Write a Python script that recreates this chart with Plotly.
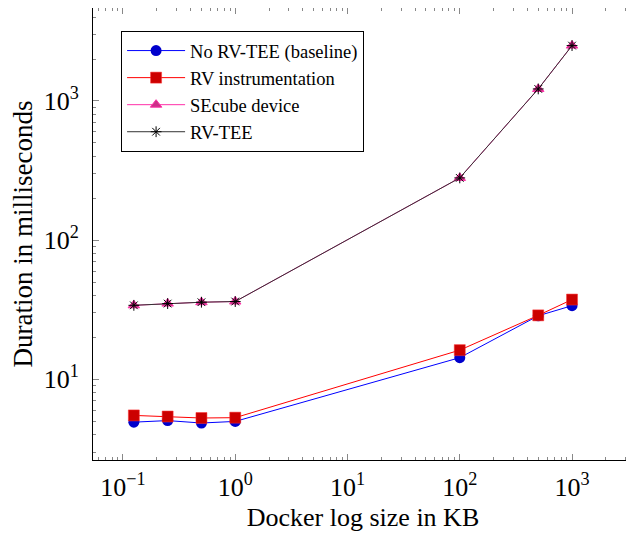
import plotly.graph_objects as go

sizes_kb = [0.125, 0.25, 0.5, 1, 100, 500, 1000]
baseline = [4.92, 5.05, 4.85, 4.98, 14.3, 28.6, 33.8]
rv_instr = [5.5, 5.4, 5.27, 5.3, 16.2, 28.8, 37.4]
secube = [34.0, 35.0, 35.8, 36.2, 280, 1220, 2500]
rv_tee = [34.0, 35.0, 35.8, 36.2, 280, 1220, 2500]

x_major = [0.1, 1, 10, 100, 1000]
x_major_text = ["10<sup>−1</sup>", "10<sup>0</sup>", "10<sup>1</sup>", "10<sup>2</sup>", "10<sup>3</sup>"]
y_major = [10, 100, 1000]
y_major_text = ["10<sup>1</sup>", "10<sup>2</sup>", "10<sup>3</sup>"]

FONT = "Liberation Serif"

fig = go.Figure()
fig.add_trace(go.Scatter(x=sizes_kb, y=baseline, mode="lines+markers", name="No RV-TEE (baseline)",
                         line=dict(color="#0000ff", width=1),
                         marker=dict(symbol="circle", size=11, color="#0000cc", line=dict(width=0))))
fig.add_trace(go.Scatter(x=sizes_kb, y=rv_instr, mode="lines+markers", name="RV instrumentation",
                         line=dict(color="#ff0000", width=1),
                         marker=dict(symbol="square", size=11, color="#cc0000", line=dict(color="#ff3030", width=0.5))))
fig.add_trace(go.Scatter(x=sizes_kb, y=secube, mode="lines+markers", name="SEcube device",
                         line=dict(color="#ff30a8", width=1),
                         marker=dict(symbol="triangle-up", size=10, color="#cc3088", line=dict(color="#ff30a8", width=1))))
fig.add_trace(go.Scatter(x=sizes_kb, y=rv_tee, mode="lines+markers", name="RV-TEE",
                         line=dict(color="#333333", width=1),
                         marker=dict(symbol="asterisk-open", size=9, color="black", line=dict(color="black", width=1))))

def minor_vals(lo, hi):
    vals = []
    for e in range(lo, hi + 1):
        for m in range(2, 10):
            vals.append(m * 10 ** e)
    return vals

axis_common = dict(
    type="log", showgrid=False, zeroline=False,
    showline=True, linecolor="black", linewidth=1, mirror="ticks",
    ticks="inside", ticklen=6, tickcolor="#888888", tickwidth=1,
    tickfont=dict(family=FONT, size=26, color="black"),
)

fig.update_xaxes(**axis_common, range=[-1.267, 3.543],
                 tickvals=x_major, ticktext=x_major_text, ticklabelstandoff=4,
                 minor=dict(tickvals=minor_vals(-2, 3), ticks="inside", ticklen=3, tickcolor="#888888", showgrid=False),
                 title=dict(text="Docker log size in KB", font=dict(family=FONT, size=26, color="black"), standoff=6))
fig.update_yaxes(**axis_common, range=[0.42, 3.668],
                 tickvals=y_major, ticktext=y_major_text, ticklabelstandoff=8,
                 minor=dict(tickvals=minor_vals(0, 3), ticks="inside", ticklen=3, tickcolor="#888888", showgrid=False),
                 title=dict(text="Duration in milliseconds", font=dict(family=FONT, size=27, color="black"), standoff=14))

fig.update_layout(
    width=626, height=530,
    margin=dict(l=85, r=1, t=0, b=78),
    plot_bgcolor="white", paper_bgcolor="white",
    font=dict(family=FONT, color="black"),
    showlegend=True,
    legend=dict(x=0.052, y=0.949, xanchor="left", yanchor="top",
                bordercolor="black", borderwidth=1, bgcolor="white",
                font=dict(family=FONT, size=18.5, color="black"),
                tracegroupgap=0, itemwidth=58),
)

fig.write_html("out.html")
